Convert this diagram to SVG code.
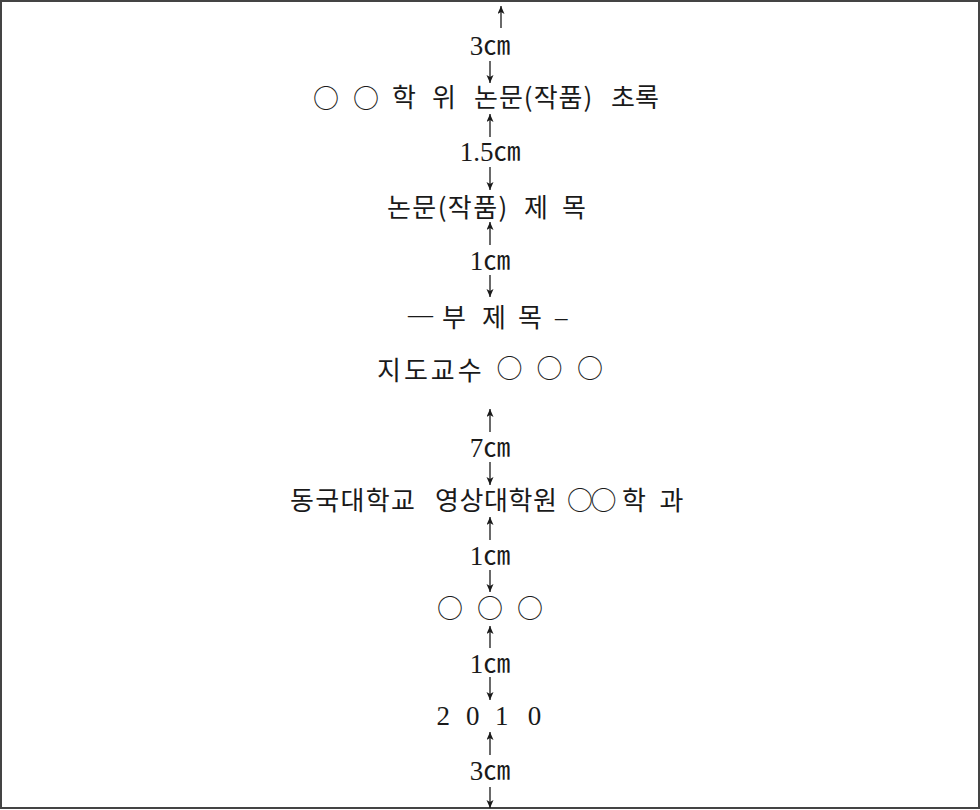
<svg xmlns="http://www.w3.org/2000/svg" width="980" height="810" viewBox="0 0 980 810">
<style>
  .kr { font-family: 'Noto Sans CJK KR', sans-serif; font-size: 26px; fill: #1a1a1a; }
  .dash { font-family: 'Liberation Serif', serif; font-size: 25px; }
  .num { font-family: 'Liberation Serif', 'Noto Sans CJK KR', serif; font-size: 27px; fill: #1a1a1a; }
  .lbl { text-anchor: middle; }
  .arr { stroke: #1a1a1a; stroke-width: 1.3; fill: none; }
</style>
<defs>
  <marker id="ah" markerUnits="userSpaceOnUse" markerWidth="9" markerHeight="8" refX="8" refY="3.5" orient="auto">
    <path d="M0,0 L8,3.5 L0,7 L2,3.5 Z" fill="#1a1a1a"/>
  </marker>
</defs>
<rect x="1" y="1" width="978" height="807" fill="#ffffff" stroke="#444444" stroke-width="2"/>

<g id="connectors">
  <line class="arr" x1="501" y1="28" x2="501" y2="6" marker-end="url(#ah)"/>
  <line class="arr" x1="490" y1="61" x2="490" y2="83" marker-end="url(#ah)"/>
  <line class="arr" x1="490" y1="137" x2="490" y2="114" marker-end="url(#ah)"/>
  <line class="arr" x1="490" y1="167" x2="490" y2="190" marker-end="url(#ah)"/>
  <line class="arr" x1="490" y1="245" x2="490" y2="222" marker-end="url(#ah)"/>
  <line class="arr" x1="490" y1="275" x2="490" y2="297" marker-end="url(#ah)"/>
  <line class="arr" x1="490" y1="432" x2="490" y2="409" marker-end="url(#ah)"/>
  <line class="arr" x1="490" y1="462" x2="490" y2="485" marker-end="url(#ah)"/>
  <line class="arr" x1="490" y1="540" x2="490" y2="517" marker-end="url(#ah)"/>
  <line class="arr" x1="490" y1="570" x2="490" y2="592" marker-end="url(#ah)"/>
  <line class="arr" x1="490" y1="648" x2="490" y2="626" marker-end="url(#ah)"/>
  <line class="arr" x1="490" y1="677" x2="490" y2="700" marker-end="url(#ah)"/>
  <line class="arr" x1="490" y1="755" x2="490" y2="732" marker-end="url(#ah)"/>
  <line class="arr" x1="490" y1="787" x2="490" y2="808" marker-end="url(#ah)"/>
</g>

<g id="m-top"><text class="num lbl" x="490" y="55">3㎝</text></g>

<g id="title">
  <text class="kr" y="107"><tspan x="313" y="107.5">○</tspan> <tspan x="353" y="107.5">○</tspan> <tspan x="392" y="107">학</tspan> <tspan x="432">위</tspan> <tspan x="474" letter-spacing="1">논문(작품)</tspan> <tspan x="611">초록</tspan></text>
</g>

<g id="m-1-5"><text class="num lbl" x="490" y="161">1.5㎝</text></g>

<g id="thesis-title">
  <text class="kr" y="217"><tspan x="387" letter-spacing="1.4">논문(작품)</tspan> <tspan x="524">제</tspan> <tspan x="562">목</tspan></text>
</g>

<g id="m-1a"><text class="num lbl" x="490" y="270">1㎝</text></g>

<g id="subtitle">
  <text class="kr" y="327"><tspan class="dash" x="408" y="323">—</tspan> <tspan x="442" y="327">부</tspan> <tspan x="482">제</tspan> <tspan x="518">목</tspan> <tspan class="dash" x="555" y="325.5" font-size="34">–</tspan></text>
</g>

<g id="advisor">
  <text class="kr" y="380"><tspan x="377" letter-spacing="3">지도교수</tspan> <tspan x="496.5" y="378">○</tspan> <tspan x="536.5">○</tspan> <tspan x="577">○</tspan></text>
</g>

<g id="m-7"><text class="num lbl" x="490" y="457">7㎝</text></g>

<g id="school">
  <text class="kr" y="510"><tspan x="290" letter-spacing="1.3">동국대학교</tspan> <tspan x="435" letter-spacing="0.6">영상대학원</tspan> <tspan x="567 590.5" y="509.5">○○</tspan><tspan x="622 659.5" y="510">학과</tspan></text>
</g>

<g id="m-1b"><text class="num lbl" x="490" y="565">1㎝</text></g>

<g id="name">
  <text class="kr" y="617.5"><tspan x="437">○</tspan> <tspan x="477">○</tspan> <tspan x="517">○</tspan></text>
</g>

<g id="m-1c"><text class="num lbl" x="490" y="673">1㎝</text></g>

<g id="year">
  <text class="num lbl" y="725" font-size="28"><tspan x="446.5">2</tspan> <tspan x="476">0</tspan> <tspan x="505">1</tspan> <tspan x="534.5">0</tspan></text>
</g>

<g id="m-bottom"><text class="num lbl" x="490" y="780">3㎝</text></g>
</svg>
